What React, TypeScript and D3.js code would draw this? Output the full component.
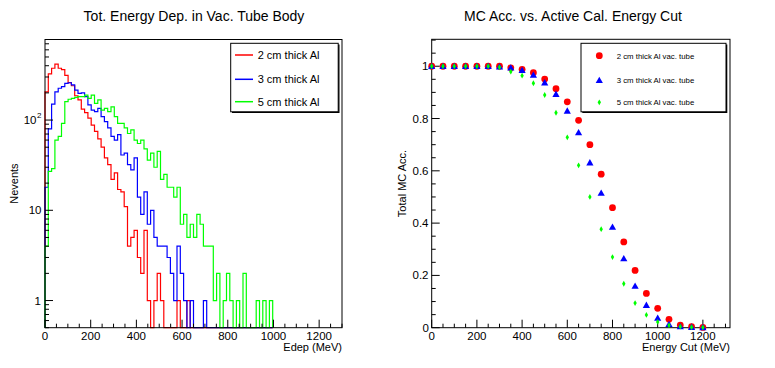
import React from "react";
import * as d3 from "d3";

// ---------- Data ----------
const histTitles = ["2 cm thick Al", "3 cm thick Al", "5 cm thick Al"];
const accTitles = ["2 cm thick Al vac. tube", "3 cm thick Al vac. tube", "5 cm thick Al vac. tube"];
const seriesColors = ["#ff0000", "#0000ff", "#00ff00"];

const nBins = 90;
const histMin = 0;
const histMax = 1300;

const red2cm = [205, 325, 375, 417, 375, 362, 312, 260, 240, 186, 167, 132, 121, 105, 88, 75, 62, 50, 38, 32, 22, 26, 17, 16, 11, 4, 5, 6, 3, 2, 6, 1, 0, 1, 2, 1, 0, 0, 0, 0, 1, 0, 0, 1, 0, 0, 0, 0, 0, 0, 0, 0, 0, 0, 0, 0, 0, 0, 0, 0, 0, 0, 0, 0, 0, 0, 0, 0, 0];
const blue3cm = [18, 80, 150, 205, 225, 235, 255, 259, 245, 215, 198, 200, 182, 147, 129, 124, 135, 109, 96, 82, 66, 60, 69, 41, 43, 32, 28, 38, 14, 9, 16, 7, 10, 5, 4, 4, 4, 3, 2, 1, 4, 2, 1, 0, 1, 0, 0, 0, 1, 0, 0, 0, 0, 0, 0, 0, 0, 0, 0, 0, 0, 0, 0, 0, 0, 0, 0, 0, 0];
const green5cm = [4, 27, 29, 60, 66, 92, 160, 170, 174, 178, 182, 182, 189, 174, 189, 153, 167, 129, 135, 124, 140, 109, 92, 92, 82, 71, 78, 60, 55, 60, 48, 36, 43, 30, 45, 22, 25, 18, 18, 14, 18, 7, 9, 5, 7, 5, 9, 7, 4, 4, 4, 1, 2, 0, 1, 2, 1, 0, 1, 0, 2, 0, 0, 0, 1, 0, 1, 0, 1];

const cutValues = [0, 50, 100, 150, 200, 250, 300, 350, 400, 450, 500, 550, 600, 650, 700, 750, 800, 850, 900, 950, 1000, 1050, 1100, 1150, 1200];
const acc2cm = [1.0, 1.0, 1.0, 1.0, 1.0, 1.0, 1.0, 0.994, 0.988, 0.975, 0.951, 0.914, 0.864, 0.793, 0.7, 0.587, 0.459, 0.328, 0.219, 0.131, 0.074, 0.032, 0.01, 0.004, 0.001];
const acc3cm = [1.0, 1.0, 1.0, 1.0, 1.0, 1.0, 0.998, 0.994, 0.984, 0.966, 0.937, 0.893, 0.829, 0.746, 0.631, 0.515, 0.385, 0.264, 0.159, 0.086, 0.037, 0.013, 0.004, 0.002, 0.001];
const acc5cm = [1.0, 1.0, 1.0, 1.0, 1.0, 1.0, 0.996, 0.979, 0.964, 0.935, 0.89, 0.822, 0.728, 0.621, 0.5, 0.377, 0.27, 0.168, 0.094, 0.049, 0.022, 0.009, 0.004, 0.002, 0.001];

const xTicksMajor = [0, 200, 400, 600, 800, 1000, 1200];
const accTicks = [0, 0.2, 0.4, 0.6, 0.8, 1];

const FONT = "Liberation Sans, Arial, Helvetica, sans-serif";

// ---------- Layout ----------
const L = { x0: 45, x1: 342, y0: 39.5, y1: 327.7 };
const R = { x0: 431.7, x1: 730, y0: 39.3, y1: 327.7 };

const xL = d3.scaleLinear().domain([histMin, histMax]).range([L.x0, L.x1]);
const yL = d3.scaleLog().domain([0.5, 781]).range([L.y1, L.y0]);
const xR = d3.scaleLinear().domain([0, 1320]).range([R.x0, R.x1]);
const yR = d3.scaleLinear().domain([0, 1.103]).range([R.y1, R.y0]);

const binW = (histMax - histMin) / nBins;

function histPath(vals: number[]) {
  const yv = (v: number) => (v > 0 ? yL(v) : L.y1);
  const pts: [number, number][] = [[xL(0), L.y1]];
  vals.forEach((v, i) => {
    pts.push([xL(histMin + i * binW), yv(v)]);
    pts.push([xL(histMin + (i + 1) * binW), yv(v)]);
  });
  pts.push([xL(histMin + vals.length * binW), L.y1]);
  return d3.line()(pts) || "";
}

function Marker({ kind, x, y, color }: { kind: number; x: number; y: number; color: string }) {
  if (kind === 0) return <circle cx={x} cy={y} r={3.4} fill={color} />;
  if (kind === 1) {
    const s = 3.6;
    return <path d={`M${x},${y - s}L${x + s},${y + s * 0.75}L${x - s},${y + s * 0.75}Z`} fill={color} />;
  }
  return <path d={`M${x},${y - 2.9}L${x + 1.7},${y}L${x},${y + 2.9}L${x - 1.7},${y}Z`} fill={color} />;
}

export default function App() {
  const hists = [red2cm, blue3cm, green5cm];
  const accs = [acc2cm, acc3cm, acc5cm];

  // left minor ticks (log)
  const logMinor: number[] = [];
  [0.1, 1, 10, 100].forEach((d) => {
    for (let k = 2; k <= 9; k++) {
      const v = d * k;
      if (v >= 0.5 && v <= 781 && ![1, 10, 100].includes(v)) logMinor.push(v);
    }
  });
  const xMinor = d3.range(0, 1301, 50);
  const yRMinor = d3.range(0, 1.1001, 0.05);

  return (
    <svg
      width={775}
      height={368}
      style={{ position: "absolute", left: 0, top: 0, background: "#fff" }}
      fontFamily={FONT}
    >
      <rect x={0} y={0} width={775} height={368} fill="#fff" />
      {/* Titles */}
      <text x={194} y={21} fontSize={14} textAnchor="middle">Tot. Energy Dep. in Vac. Tube Body</text>
      <text x={573} y={21} fontSize={14} textAnchor="middle">MC Acc. vs. Active Cal. Energy Cut</text>

      {/* ---- Left plot ---- */}
      <g>
        {hists.map((h, k) => (
          <path key={k} d={histPath(h)} fill="none" stroke={seriesColors[k]} strokeWidth={1.2} />
        ))}
        <rect x={L.x0} y={L.y0} width={L.x1 - L.x0} height={L.y1 - L.y0} fill="none" stroke="#000" strokeWidth={1} />
        {/* x ticks */}
        {xMinor.map((v) => (
          <line key={"xm" + v} x1={xL(v)} x2={xL(v)} y1={L.y1} y2={L.y1 - (v % 200 === 0 ? 8 : 4)} stroke="#000" />
        ))}
        {xTicksMajor.map((v) => (
          <text key={"xl" + v} x={xL(v)} y={339.5} fontSize={11.5} textAnchor="middle">{v}</text>
        ))}
        {/* y ticks */}
        {logMinor.map((v) => (
          <line key={"ym" + v} x1={L.x0} x2={L.x0 + 4} y1={yL(v)} y2={yL(v)} stroke="#000" />
        ))}
        {[1, 10, 100].map((v) => (
          <line key={"yM" + v} x1={L.x0} x2={L.x0 + 8} y1={yL(v)} y2={yL(v)} stroke="#000" />
        ))}
        <text x={41} y={yL(1) + 4} fontSize={11.5} textAnchor="end">1</text>
        <text x={41.5} y={yL(10) + 4} fontSize={11.5} textAnchor="end">10</text>
        <text x={36.5} y={yL(100) + 4} fontSize={11.5} textAnchor="end">10</text>
        <text x={37} y={yL(100) - 2} fontSize={8} textAnchor="start">2</text>
        <text x={342} y={351} fontSize={11} textAnchor="end">Edep (MeV)</text>
        <text transform={`translate(18,${(L.y0 + L.y1) / 2}) rotate(-90)`} fontSize={11} textAnchor="middle">Nevents</text>

        {/* legend */}
        <rect x={232} y={44.5} width={107.5} height={68.5} fill="#000" />
        <rect x={230.7} y={43.3} width={107.5} height={68.5} fill="#fff" stroke="#000" strokeWidth={1} />
        {histTitles.map((t, k) => {
          const yy = [55, 79.3, 101.7][k];
          return (
            <g key={t}>
              <line x1={235} x2={253} y1={yy} y2={yy} stroke={seriesColors[k]} strokeWidth={1.5} />
              <text x={257.7} y={yy + 4} fontSize={11}>{t}</text>
            </g>
          );
        })}
      </g>

      {/* ---- Right plot ---- */}
      <g>
        <rect x={R.x0} y={R.y0} width={R.x1 - R.x0} height={R.y1 - R.y0} fill="none" stroke="#000" strokeWidth={1} />
        {xMinor.map((v) => (
          <line key={"rxm" + v} x1={xR(v)} x2={xR(v)} y1={R.y1} y2={R.y1 - (v % 200 === 0 ? 8 : 4)} stroke="#000" />
        ))}
        {xTicksMajor.map((v) => (
          <text key={"rxl" + v} x={xR(v)} y={339.5} fontSize={11.5} textAnchor="middle">{v}</text>
        ))}
        {yRMinor.map((v, i) => (
          <line key={"rym" + i} x1={R.x0} x2={R.x0 + (i % 4 === 0 ? 8 : 4)} y1={yR(v)} y2={yR(v)} stroke="#000" />
        ))}
        {accTicks.map((v) => (
          <text key={"ryl" + v} x={v === 0 ? 429 : 428.5} y={yR(v) + 4} fontSize={11.5} textAnchor="end">{v === 0 ? "0" : v === 1 ? "1" : v.toFixed(1)}</text>
        ))}
        <text x={730} y={351} fontSize={11} textAnchor="end">Energy Cut (MeV)</text>
        <text transform={`translate(406,${(R.y0 + R.y1) / 2}) rotate(-90)`} fontSize={11} textAnchor="middle">Total MC Acc.</text>

        {accs.map((a, k) => (
          <g key={k}>
            {a.map((v, i) => (
              <Marker key={i} kind={k} x={xR(cutValues[i])} y={yR(v)} color={seriesColors[k]} />
            ))}
          </g>
        ))}

        {/* legend */}
        <rect x={582.3} y={44.5} width={145} height={68.5} fill="#000" />
        <rect x={581} y={43.3} width={145} height={68.5} fill="#fff" stroke="#000" strokeWidth={1} />
        {accTitles.map((t, k) => {
          const yy = [55.7, 80.3, 102.3][k];
          return (
            <g key={t}>
              <Marker kind={k} x={599.3} y={yy} color={seriesColors[k]} />
              <text x={616.7} y={yy + 2.8} fontSize={7.8}>{t}</text>
            </g>
          );
        })}
      </g>
    </svg>
  );
}
